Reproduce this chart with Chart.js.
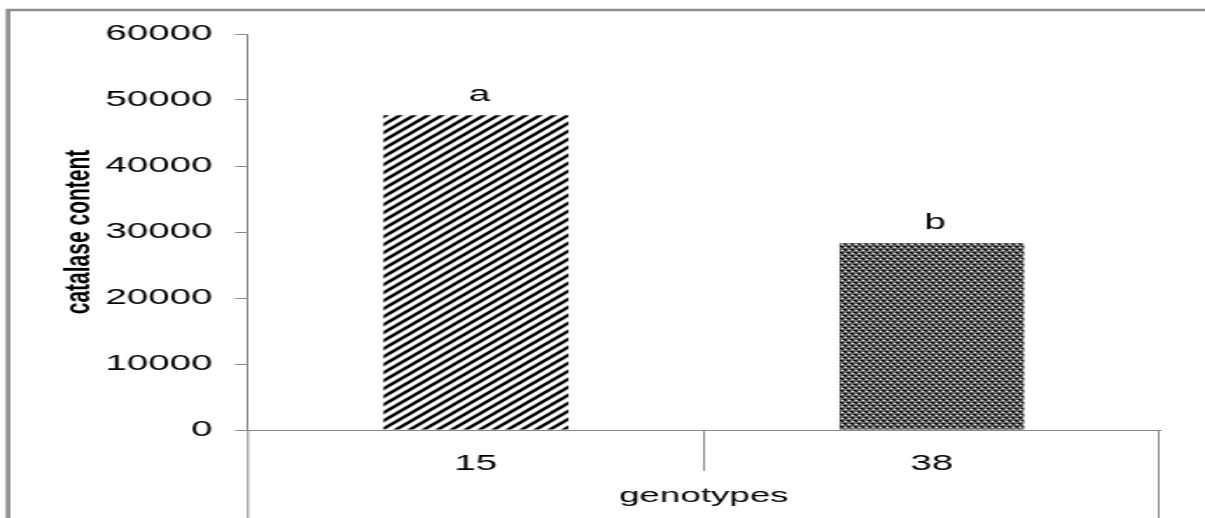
<!DOCTYPE html>
<html>
<head>
<meta charset="utf-8">
<script src="https://cdn.jsdelivr.net/npm/chart.js@4/dist/chart.umd.min.js"></script>
<style>
  html, body { margin: 0; padding: 0; background: #fff; overflow: hidden; }
  #wrap { width: 689px; height: 518px; transform: scaleX(1.749); transform-origin: 0 0; }
  canvas { display: block; }
</style>
</head>
<body>
<div id="wrap"><canvas id="c" width="689" height="518"></canvas></div>
<script>
// Catalase content by genotype, with significance letters
const genotypes = ['15', '38'];
const catalase = [47700, 28300];
const groupLetters = ['a', 'b'];
const yMin = 0, yMax = 60000, yStep = 10000;

const FONT = '"Liberation Sans", Arial, Helvetica, sans-serif';
const AXIS_GRAY = '#8a8a8a';

// Diagonal hatch fill
function hatchPattern() {
  const t = document.createElement('canvas');
  t.width = 8; t.height = 8;
  const g = t.getContext('2d');
  g.fillStyle = '#fff'; g.fillRect(0, 0, 8, 8);
  g.strokeStyle = '#000'; g.lineWidth = 2.6;
  g.beginPath();
  g.moveTo(-2, 10); g.lineTo(10, -2);
  g.moveTo(-2, 2); g.lineTo(2, -2);
  g.moveTo(6, 10); g.lineTo(10, 6);
  g.stroke();
  return g.createPattern(t, 'repeat');
}

// Fine dark dotted-diamond fill
function dotPattern() {
  const t = document.createElement('canvas');
  t.width = 4; t.height = 6;
  const g = t.getContext('2d');
  g.fillStyle = '#6a6a6a'; g.fillRect(0, 0, 4, 6);
  g.fillStyle = '#111';
  g.fillRect(0, 0, 2, 1); g.fillRect(2, 3, 2, 1);
  g.fillRect(1, 1, 1, 1); g.fillRect(3, 4, 1, 1);
  g.fillStyle = '#fff';
  g.fillRect(3, 1, 1, 1); g.fillRect(1, 4, 1, 1);
  return g.createPattern(t, 'repeat');
}

// Frame, category separators and letters above bars
const decorations = {
  id: 'decorations',
  afterDraw(chart) {
    const { ctx, chartArea: a, scales: { x } } = chart;
    const H = chart.height, W = chart.width;
    ctx.save();
    ctx.strokeStyle = AXIS_GRAY;
    ctx.lineWidth = 1;
    ctx.beginPath();
    // y axis continues down past the category labels
    ctx.moveTo(a.left, a.bottom); ctx.lineTo(a.left, H);
    // separator between categories
    const mid = (x.getPixelForValue(0) + x.getPixelForValue(1)) / 2;
    ctx.moveTo(Math.round(mid) + 0.5, a.bottom); ctx.lineTo(Math.round(mid) + 0.5, a.bottom + 41);
    // closing line at the right end of the axis
    ctx.moveTo(Math.round(a.right) - 0.5, a.bottom); ctx.lineTo(Math.round(a.right) - 0.5, H);
    ctx.stroke();

    // outer frame
    ctx.strokeStyle = '#8c8c8c';
    ctx.lineWidth = 2.6;
    ctx.beginPath();
    ctx.moveTo(4.6, H); ctx.lineTo(4.6, 10); ctx.lineTo(W, 10);
    ctx.stroke();

    // letters above bars
    const meta = chart.getDatasetMeta(0);
    ctx.fillStyle = '#000';
    ctx.font = '22px ' + FONT;
    ctx.textAlign = 'center';
    ctx.textBaseline = 'alphabetic';
    meta.data.forEach((bar, i) => {
      ctx.fillText(groupLetters[i], bar.x + 2, bar.y - 14);
    });
    ctx.restore();
  }
};

new Chart(document.getElementById('c'), {
  type: 'bar',
  data: {
    labels: genotypes,
    datasets: [{
      data: catalase,
      backgroundColor: [hatchPattern(), dotPattern()],
      borderWidth: 0,
      barPercentage: 0.405,
      categoryPercentage: 1
    }]
  },
  options: {
    responsive: false,
    animation: false,
    devicePixelRatio: 1,
    layout: { padding: { left: 0, right: 26, top: 34, bottom: 0 } },
    plugins: { legend: { display: false }, tooltip: { enabled: false } },
    scales: {
      x: {
        grid: { display: false },
        border: { display: true, color: AXIS_GRAY, width: 1 },
        ticks: { color: '#000', font: { family: FONT, size: 22 }, padding: 13 },
        title: {
          display: true, text: 'genotypes', color: '#000',
          font: { family: FONT, size: 21 }, padding: { top: 0, bottom: 9 }
        },
        afterFit(s) { s.height = 88; }
      },
      y: {
        min: yMin, max: yMax,
        ticks: {
          stepSize: yStep, color: '#000', font: { family: FONT, size: 22 }, padding: 13,
          callback: (v) => String(v)
        },
        grid: { drawOnChartArea: false, drawTicks: true, tickLength: 7.4, color: AXIS_GRAY },
        border: { display: true, color: AXIS_GRAY, width: 1 },
        title: {
          display: true, text: 'catalase content', color: '#000',
          font: { family: FONT, size: 21, weight: 'bold' }, padding: { top: 33, bottom: 0 }
        },
        afterFit(s) { s.width = 141.8; }
      }
    }
  },
  plugins: [decorations]
});
</script>
</body>
</html>
